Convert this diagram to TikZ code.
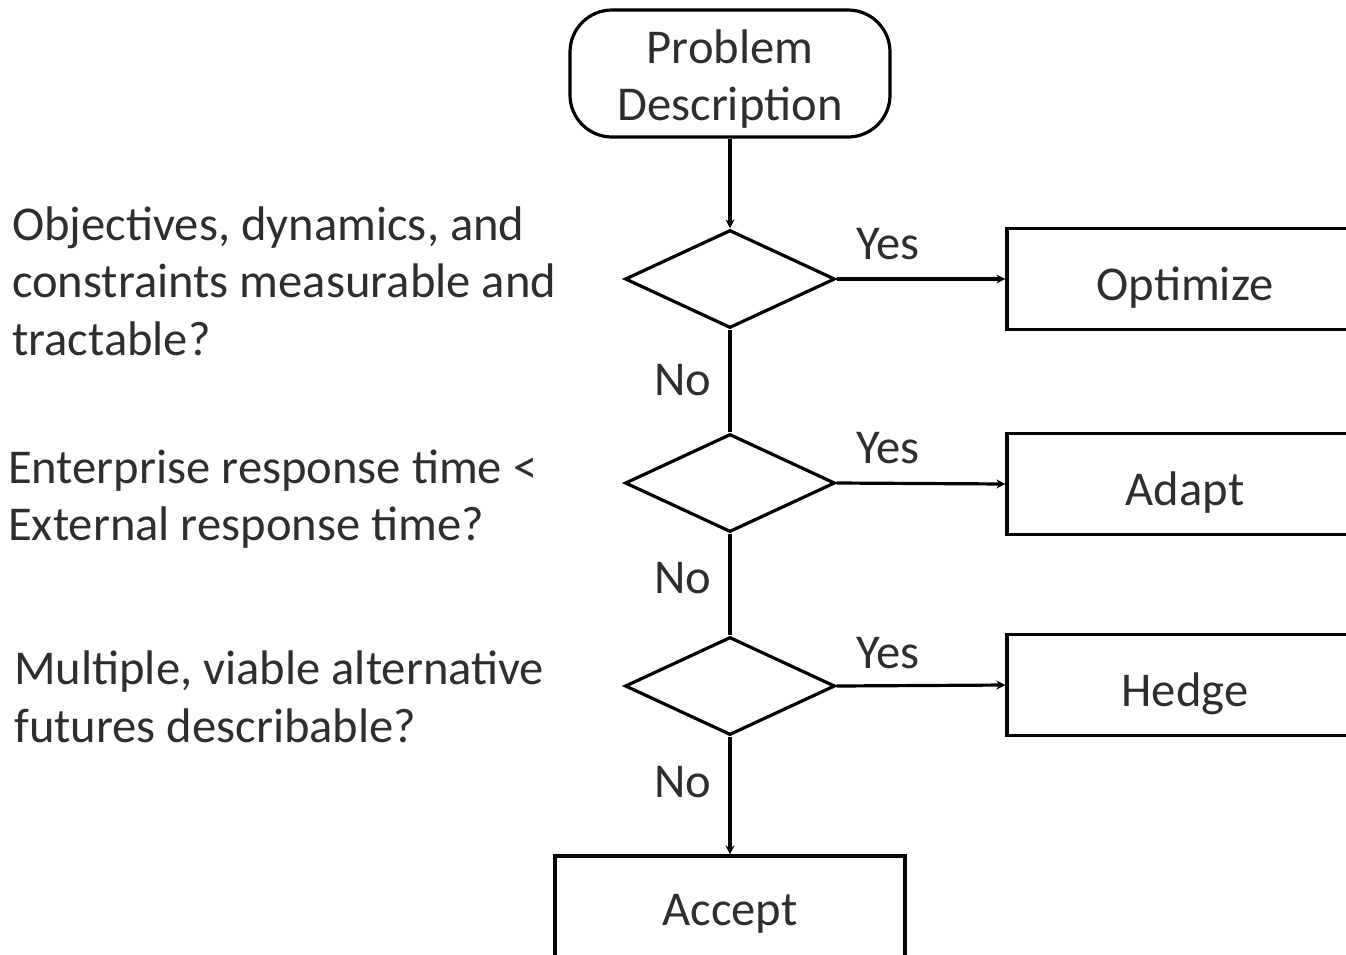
\documentclass[tikz,border=0pt]{standalone}
\usepackage{fontspec}
\setmainfont{Carlito}
\usetikzlibrary{shapes.geometric,arrows.meta}
\definecolor{txt}{HTML}{2E2E2E}
\tikzset{
  every node/.style={text=txt, font=\fontsize{48.6}{57.5}\selectfont},
  bord/.style={draw=black, line width=3.2pt},
  decision/.style={bord, shape=diamond, minimum width=210pt, minimum height=98pt, inner sep=0pt},
  outbox/.style={bord, rectangle, minimum width=356pt, minimum height=101pt, inner sep=0pt, text height=42pt, text depth=0pt},
  startbox/.style={bord, rounded corners=42pt, minimum width=320pt, minimum height=127pt, align=center, inner sep=0pt},
  conn/.style={draw=black, line width=3.2pt},
  arr/.style={conn, -{Stealth[length=9pt,width=9pt]}},
  qtext/.style={align=left, anchor=west, inner sep=0pt},
  lab/.style={inner sep=0pt}
}
\begin{document}
\begin{tikzpicture}[x=1pt,y=-1pt]
\useasboundingbox (0,0) rectangle (1346,954);
\clip (0,0) rectangle (1346,954);
\node[startbox] (start) at (730,73.5) {\rule{0pt}{45pt}Problem\\Description};
\node[decision] (d1) at (730,279) {};
\node[decision] (d2) at (730,483) {};
\node[decision] (d3) at (730,686) {};
\node[outbox] (opt) at (1185,279) {Optimize};
\node[outbox] (ada) at (1185,484) {Adapt};
\node[outbox] (hed) at (1185,685) {Hedge};
\node[bord, rectangle, minimum width=350pt, minimum height=104pt, inner sep=0pt, text height=34pt, text depth=0pt] (acc) at (730,908) {Accept};
\node[qtext] (q1) at (12,281) {Objectives, dynamics, and\\constraints measurable and\\tractable?};
\node[qtext] (q2) at (8,499) {Enterprise response time <\\External response time?};
\node[qtext] (q3) at (14,697) {Multiple, viable alternative\\futures describable?};
\draw[arr] (start.south) -- (d1.north);
\draw[conn] (d1.south) -- (d2.north);
\draw[conn] (d2.south) -- (d3.north);
\draw[arr] (d3.south) -- (acc.north);
\draw[arr] (d1.east) -- (opt.west);
\draw[arr] (d2.east) -- (ada.west);
\draw[arr] (d3.east) -- (hed.west);
\node[lab] (y1) at (888,244) {Yes};
\node[lab] (y2) at (888,448) {Yes};
\node[lab] (y3) at (888,653) {Yes};
\node[lab] (n1) at (683,380) {No};
\node[lab] (n2) at (683,578) {No};
\node[lab] (n3) at (683,782) {No};
\end{tikzpicture}
\end{document}
